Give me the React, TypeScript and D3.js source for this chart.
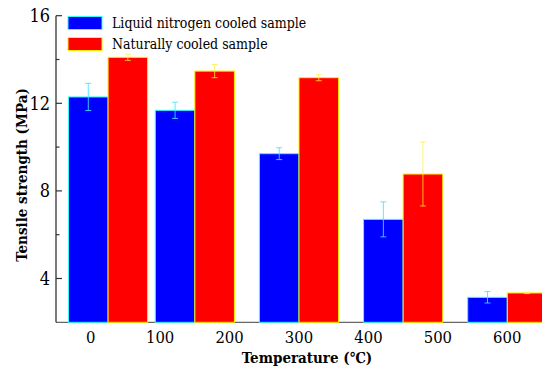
import React from 'react';
import * as d3 from 'd3';

// treatment temperatures (deg C) and tensile strength (MPa)
const temperatures = [25, 150, 300, 450, 600];
const liquidN2 = [12.29, 11.68, 9.7, 6.7, 3.14];
const liquidN2Err = [0.62, 0.37, 0.27, 0.8, 0.26];
const natural = [14.1, 13.47, 13.17, 8.77, 3.34];
const naturalErr = [0.14, 0.3, 0.14, 1.46, 0.03];
const xTicks = [0, 100, 200, 300, 400, 500, 600];
const yTicks = [4, 8, 12, 16];
const yMinor = [6, 10, 14];
const seriesNames = ['Liquid nitrogen cooled sample', 'Naturally cooled sample'];

const width = 550;
const height = 372;
const margin = { top: 15.7, right: 8, bottom: 49.7, left: 56 };
const font = "'DejaVu Serif Condensed', 'DejaVu Serif', serif";
const barW = 57; // in temperature units

const App = () => {
  React.useEffect(() => {
    document.body.style.margin = '0';
  }, []);

  const x = d3.scaleLinear().domain([-50, 650]).range([margin.left, width - margin.right]);
  const y = d3.scaleLinear().domain([2, 16]).range([height - margin.bottom, margin.top]);
  const y0 = y(2);

  const series = [
    { vals: liquidN2, errs: liquidN2Err, fill: '#0000ff', stroke: '#33ffff', err: 'rgba(60,230,255,0.85)', off: -barW },
    { vals: natural, errs: naturalErr, fill: '#ff0000', stroke: '#ffee00', err: 'rgba(255,240,60,0.75)', off: 0 },
  ];

  return (
    <svg width={width} height={height} style={{ display: 'block', background: '#fff', fontFamily: font, fontStretch: 'condensed' }}>
      <defs>
        <clipPath id="plot">
          <rect x={margin.left} y={0} width={x(650) - margin.left} height={height} />
        </clipPath>
      </defs>

      {/* x axis line */}
      <line x1={margin.left} x2={x(650)} y1={y0} y2={y0} stroke="#666" strokeWidth={1.3} />

      <g clipPath="url(#plot)">
        {series.map((s, si) =>
          temperatures.map((t, i) => {
            const x1 = x(t + s.off);
            const x2 = x(t + s.off + barW);
            return (
              <rect key={`${si}-${i}`} x={x1} y={y(s.vals[i])} width={x2 - x1} height={y0 - y(s.vals[i])}
                fill={s.fill} stroke={s.stroke} strokeWidth={1} />
            );
          })
        )}
        {series.map((s, si) =>
          temperatures.map((t, i) => {
            const cx = x(t + s.off + barW / 2);
            const hi = y(s.vals[i] + s.errs[i]);
            const lo = y(s.vals[i] - s.errs[i]);
            return (
              <g key={`e${si}-${i}`} stroke={s.err} strokeWidth={1}>
                <line x1={cx} x2={cx} y1={hi} y2={lo} />
                <line x1={cx - 3} x2={cx + 3} y1={hi} y2={hi} />
                <line x1={cx - 3} x2={cx + 3} y1={lo} y2={lo} />
              </g>
            );
          })
        )}
      </g>

      {/* y axis */}
      <line x1={margin.left} x2={margin.left} y1={margin.top} y2={y0} stroke="#333" strokeWidth={1.3} />
      {yTicks.map(v => (
        <g key={v}>
          <line x1={margin.left} x2={margin.left + 6} y1={y(v)} y2={y(v)} stroke="#333" strokeWidth={1.2} />
          <text x={margin.left - 6} y={y(v)} dy="0.36em" textAnchor="end" fontSize={18}>{v}</text>
        </g>
      ))}
      {yMinor.map(v => (
        <line key={v} x1={margin.left} x2={margin.left + 3.5} y1={y(v)} y2={y(v)} stroke="#333" strokeWidth={1.2} />
      ))}

      {/* x tick labels */}
      {xTicks.map(v => (
        <text key={v} x={x(v)} y={y0 + 21} textAnchor="middle" fontSize={16.5}>{v}</text>
      ))}

      {/* axis titles */}
      <text x={307} y={363} textAnchor="middle" fontSize={15} fontWeight="bold">Temperature (℃)</text>
      <text transform={`translate(27,175) rotate(-90)`} textAnchor="middle" fontSize={15} fontWeight="bold">
        Tensile strength (MPa)
      </text>

      {/* legend */}
      {seriesNames.map((name, i) => (
        <g key={name} transform={`translate(68,${16.5 + i * 21})`}>
          <rect width={34} height={13} fill={series[i].fill} stroke={series[i].stroke} strokeWidth={1} />
          <text x={44} y={11.5} fontSize={14}>{name}</text>
        </g>
      ))}
    </svg>
  );
};

export default App;
